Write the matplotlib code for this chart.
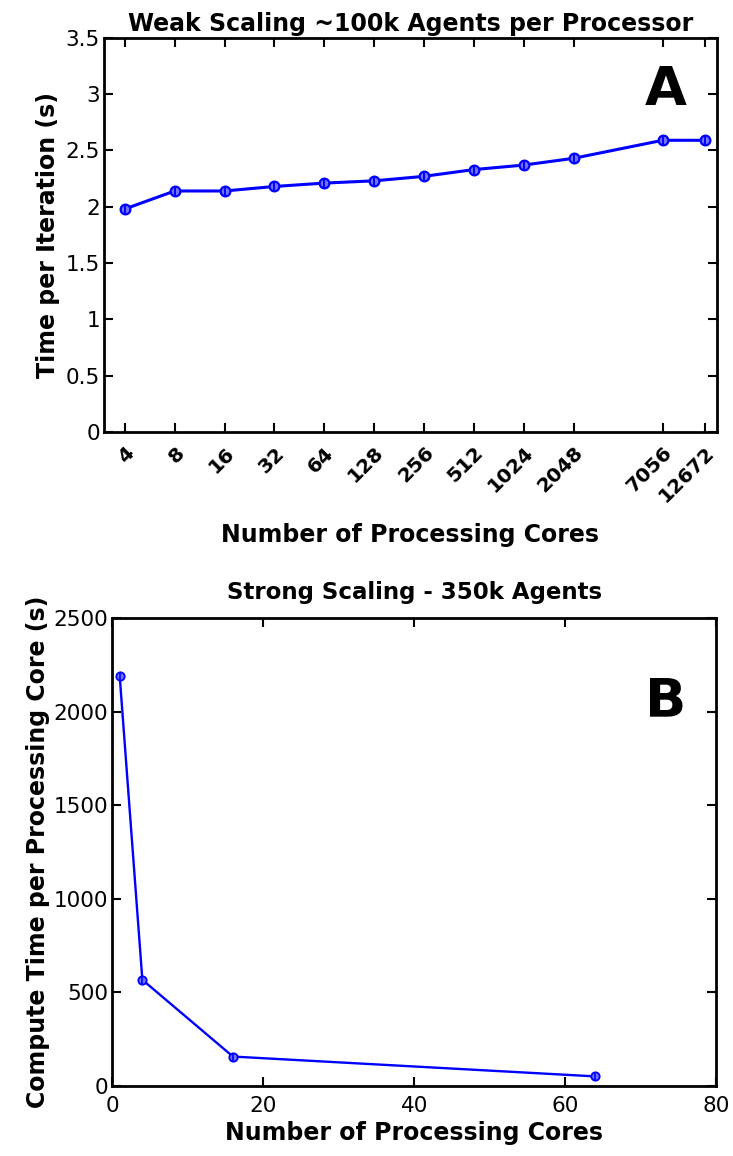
import numpy as np
import matplotlib.pyplot as plt
from matplotlib.ticker import FixedLocator, NullLocator

plt.rcParams['font.family'] = ['DejaVu Sans']

# weak scaling data (panel A)
weak_cores = [4, 8, 16, 32, 64, 128, 256, 512, 1024, 2048, 7056, 12672]
weak_time = [1.98, 2.14, 2.14, 2.18, 2.21, 2.23, 2.27, 2.33, 2.37, 2.43, 2.59, 2.59]

# strong scaling data (panel B)
strong_cores = [1, 4, 16, 64]
strong_time = [2190, 567, 157, 51]

blue = (0, 0, 1)
light = (0.45, 0.45, 1)

fig = plt.figure(figsize=(7.33, 11.56), dpi=100)

# panel A
ax1 = fig.add_axes([0.142, 0.6263, 0.836, 0.341])
ax1.plot(weak_cores, weak_time, '-o', color=blue, lw=2.2, ms=7, mfc=light, mec=blue, mew=1.6)
ax1.plot(weak_cores, weak_time, '|', color=blue, ms=7, mew=1.4)
ax1.set_xscale('log', base=2)
ax1.set_xlim(3, 15000)
ax1.set_ylim(0, 3.5)
ax1.xaxis.set_major_locator(FixedLocator(weak_cores))
ax1.xaxis.set_minor_locator(NullLocator())
ax1.set_xticklabels([str(c) for c in weak_cores], rotation=45, ha='right', va='top',
                    fontsize=14.5, fontweight='bold', rotation_mode='anchor')
ax1.set_yticks(np.arange(0, 3.6, 0.5))
ax1.set_yticklabels(['0', '0.5', '1', '1.5', '2', '2.5', '3', '3.5'], fontsize=15.5)
ax1.tick_params(direction='in', top=True, right=True, length=6.5, width=1.5, pad=3)
ax1.tick_params(axis='x', pad=8)
ax1.set_ylabel('Time per Iteration (s)', fontsize=17, fontweight='bold', labelpad=4)
ax1.set_xlabel('Number of Processing Cores', fontsize=17, fontweight='bold', labelpad=12)
ax1.set_title('Weak Scaling ~100k Agents per Processor', fontsize=17, fontweight='bold', pad=5)
ax1.text(0.917, 0.868, 'A', transform=ax1.transAxes, fontsize=39, fontweight='bold',
         ha='center', va='center')
for s in ax1.spines.values():
    s.set_linewidth(2)

# panel B
ax2 = fig.add_axes([0.153, 0.0606, 0.824, 0.4048])
ax2.plot(strong_cores, strong_time, '-o', color=blue, lw=1.7, ms=6, mfc=light, mec=blue, mew=1.3)
ax2.plot(strong_cores, strong_time, '|', color=blue, ms=6, mew=1.2)
ax2.set_xlim(0, 80)
ax2.set_ylim(0, 2500)
ax2.set_xticks([0, 20, 40, 60, 80])
ax2.set_yticks([0, 500, 1000, 1500, 2000, 2500])
ax2.tick_params(direction='in', top=True, right=True, length=6.5, width=1.5, labelsize=15.5, pad=3)
ax2.tick_params(axis='x', pad=7)
ax2.set_ylabel('Compute Time per Processing Core (s)', fontsize=17, fontweight='bold', labelpad=2)
ax2.set_xlabel('Number of Processing Cores', fontsize=17, fontweight='bold', labelpad=4)
ax2.set_title('Strong Scaling - 350k Agents', fontsize=16.5, fontweight='bold', pad=14)
ax2.text(0.916, 0.823, 'B', transform=ax2.transAxes, fontsize=39, fontweight='bold',
         ha='center', va='center')
for s in ax2.spines.values():
    s.set_linewidth(2)

fig.savefig('out.png', dpi=100)
